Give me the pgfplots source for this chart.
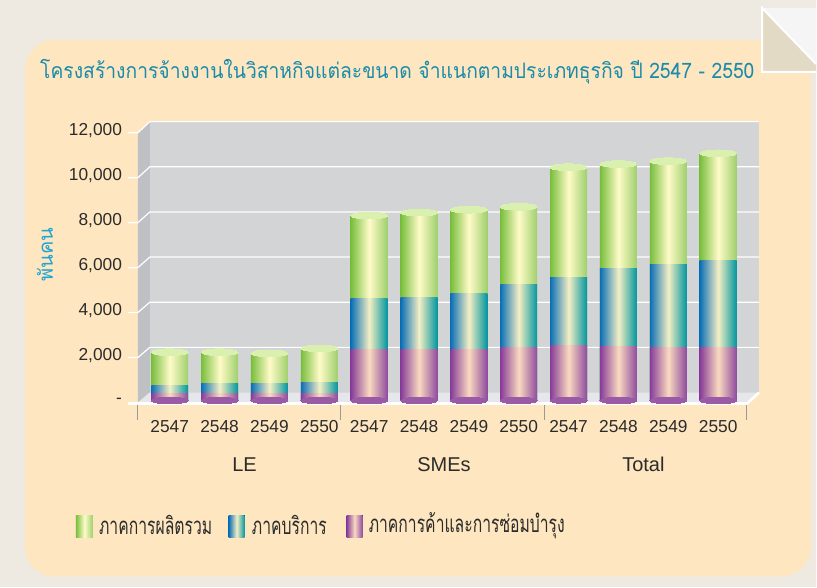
\documentclass[border=0pt]{standalone}
\usepackage{fontspec}
\usepackage{graphicx}
\usepackage{pgfplots}
\pgfplotsset{compat=1.18}
\setmainfont{Liberation Sans}
\newfontfamily\thaifont[Script=Thai]{Loma}
\definecolor{bgout}{HTML}{EEEAE2}
\definecolor{panel}{HTML}{FEE6C0}
\definecolor{wall}{HTML}{D3D4D6}
\definecolor{sidewall}{HTML}{BFC0C4}
\definecolor{floorc}{HTML}{E6E7EA}
\definecolor{titlec}{HTML}{1A8BAA}
\definecolor{ylab}{HTML}{20A4D4}
\definecolor{txt}{HTML}{2B2B2B}
\definecolor{gL}{HTML}{78BE3C}
\definecolor{gM}{HTML}{FFFBC8}
\definecolor{gR}{HTML}{9ECF6C}
\definecolor{gTop}{HTML}{DAF0AE}
\definecolor{tL}{HTML}{0A6FB5}
\definecolor{tM}{HTML}{F4EFC4}
\definecolor{tR}{HTML}{00959E}
\definecolor{pL}{HTML}{873C98}
\definecolor{pM}{HTML}{FADAC0}
\definecolor{pR}{HTML}{8F4A9E}
\definecolor{pBot}{HTML}{9A5AA6}
\definecolor{curl}{HTML}{E3DAC6}
\pgfplotsset{
  gbar/.style={ybar, bar shift=0pt, bar width=27.75pt, draw=none, left color=gL, right color=gR, middle color=gM, forget plot},
  tbar/.style={ybar, bar shift=0pt, bar width=27.75pt, draw=none, left color=tL, right color=tR, middle color=tM, forget plot},
  pbar/.style={ybar, bar shift=0pt, bar width=27.75pt, draw=none, left color=pL, right color=pR, middle color=pM, forget plot},
}
\begin{document}
\begin{tikzpicture}[x=0.75pt,y=-0.75pt]
% background
\fill[bgout] (0,0) rectangle (817,588);
\fill[panel, rounded corners=22pt] (25,40) rectangle (812,577);
% page curl
\fill[black!4] (763,8) -- (817,8) -- (817,64) -- cycle;
\fill[curl] (763,8) -- (763,72) -- (817,72) -- (817,64) -- cycle;
\draw[white, line width=1.5pt] (817,64) -- (763,8) -- (763,72) -- (817,72);
% title
\node[anchor=west, text=titlec, font=\thaifont\fontsize{16}{18}\selectfont, inner sep=0pt] at (40,72) {\scalebox{0.905}[1]{โครงสร้างการจ้างงานในวิสาหกิจแต่ละขนาด จำแนกตามประเภทธุรกิจ ปี 2547 - 2550}};
% y label
\node[rotate=90, text=ylab, font=\thaifont\fontsize{15}{17}\selectfont, inner sep=0pt] at (45,255) {พันคน};
% 3D walls
\fill[sidewall] (138,133) -- (150,122) -- (150,393) -- (138,403) -- cycle;
\fill[wall] (150,122) rectangle (760,393);
\fill[floorc] (138,403) -- (150,393) -- (760,393) -- (748,403) -- cycle;
\foreach \k in {1,...,6} {
  \draw[white, line width=0.9pt] (128,{403-45*\k}) -- (138,{403-45*\k}) -- (150,{393-45.2*\k}) -- (760,{393-45.2*\k});
}
\draw[white, line width=2pt] (128,404) -- (748,404) -- (760,393);
\foreach \xx in {138,341,545,747} { \draw[black!40, line width=0.8pt] (\xx,405) -- (\xx,421); }
\coordinate (A) at (145,401);
% axis
\begin{axis}[
  at={(A)}, anchor=south west,
  scale only axis, width=449.25pt, height=202.5pt,
  xmin=-0.5, xmax=11.5, ymin=0, ymax=12000,
  scaled y ticks=false,
  axis line style={draw=none}, major tick length=0pt,
  xtick={0,...,11},
  xticklabels={2547,2548,2549,2550,2547,2548,2549,2550,2547,2548,2549,2550},
  ytick={0,2000,4000,6000,8000,10000,12000},
  yticklabels={{-},{2,000},{4,000},{6,000},{8,000},{10,000},{12,000}},
  tick label style={font=\fontsize{13}{15}\selectfont, text=txt, inner sep=0pt},
  yticklabel style={anchor=east, xshift=-17pt},
  xticklabel style={anchor=north, yshift=-15pt},
  clip=false,
]
% bottom rounded edges
\addplot[only marks, color=pBot, mark=*, mark size=13.875pt, mark options={yscale=0.18, fill=pBot, draw=pBot, line width=0pt}]
  coordinates {(0,0) (1,0) (2,0) (3,0) (4,0) (5,0) (6,0) (7,0) (8,0) (9,0) (10,0) (11,0)};
% manufacturing (top; bar height = cumulative total)
\addplot[gbar] coordinates {(0,2150)};
\addplot[gbar] coordinates {(1,2150)};
\addplot[gbar] coordinates {(2,2100)};
\addplot[gbar] coordinates {(3,2320)};
\addplot[gbar] coordinates {(4,8230)};
\addplot[gbar] coordinates {(5,8360)};
\addplot[gbar] coordinates {(6,8490)};
\addplot[gbar] coordinates {(7,8620)};
\addplot[gbar] coordinates {(8,10380)};
\addplot[gbar] coordinates {(9,10520)};
\addplot[gbar] coordinates {(10,10650)};
\addplot[gbar] coordinates {(11,11000)};
% services (cumulative: trade + services)
\addplot[tbar] coordinates {(0,660)};
\addplot[tbar] coordinates {(1,750)};
\addplot[tbar] coordinates {(2,750)};
\addplot[tbar] coordinates {(3,790)};
\addplot[tbar] coordinates {(4,4540)};
\addplot[tbar] coordinates {(5,4580)};
\addplot[tbar] coordinates {(6,4760)};
\addplot[tbar] coordinates {(7,5150)};
\addplot[tbar] coordinates {(8,5460)};
\addplot[tbar] coordinates {(9,5860)};
\addplot[tbar] coordinates {(10,6040)};
\addplot[tbar] coordinates {(11,6210)};
% trade and repair
\addplot[pbar] coordinates {(0,310)};
\addplot[pbar] coordinates {(1,310)};
\addplot[pbar] coordinates {(2,310)};
\addplot[pbar] coordinates {(3,310)};
\addplot[pbar] coordinates {(4,2250)};
\addplot[pbar] coordinates {(5,2290)};
\addplot[pbar] coordinates {(6,2290)};
\addplot[pbar] coordinates {(7,2380)};
\addplot[pbar] coordinates {(8,2470)};
\addplot[pbar] coordinates {(9,2420)};
\addplot[pbar] coordinates {(10,2380)};
\addplot[pbar] coordinates {(11,2380)};
% cylinder tops
\addplot[only marks, color=gTop, mark=*, mark size=13.875pt, mark options={yscale=0.18, fill=gTop, draw=gTop, line width=0pt}]
  coordinates {(0,2150) (1,2150) (2,2100) (3,2320) (4,8230) (5,8360) (6,8490) (7,8620) (8,10380) (9,10520) (10,10650) (11,11000)};
% group labels
\node[font=\fontsize{15}{17}\selectfont, text=txt] at (axis cs:1.5,0) [yshift=-48pt] {LE};
\node[font=\fontsize{15}{17}\selectfont, text=txt] at (axis cs:5.5,0) [yshift=-48pt] {SMEs};
\node[font=\fontsize{15}{17}\selectfont, text=txt] at (axis cs:9.5,0) [yshift=-48pt] {Total};
\end{axis}
% legend
\begin{scope}[font=\thaifont\fontsize{18}{20}\selectfont]
\fill[left color=gL, right color=gR, middle color=gM] (76,516) rectangle (93,538);
\node[anchor=west, inner sep=0pt, text=txt] at (99,526) {\scalebox{0.655}[1]{ภาคการผลิตรวม}};
\fill[left color=tL, right color=tR, middle color=tM] (229,516) rectangle (245,538);
\node[anchor=west, inner sep=0pt, text=txt] at (252,526) {\scalebox{0.655}[1]{ภาคบริการ}};
\fill[left color=pL, right color=pR, middle color=pM] (347,516) rectangle (363,538);
\node[anchor=west, inner sep=0pt, text=txt] at (369,526) {\scalebox{0.655}[1]{ภาคการค้าและการซ่อมบำรุง}};
\end{scope}
\end{tikzpicture}
\end{document}
